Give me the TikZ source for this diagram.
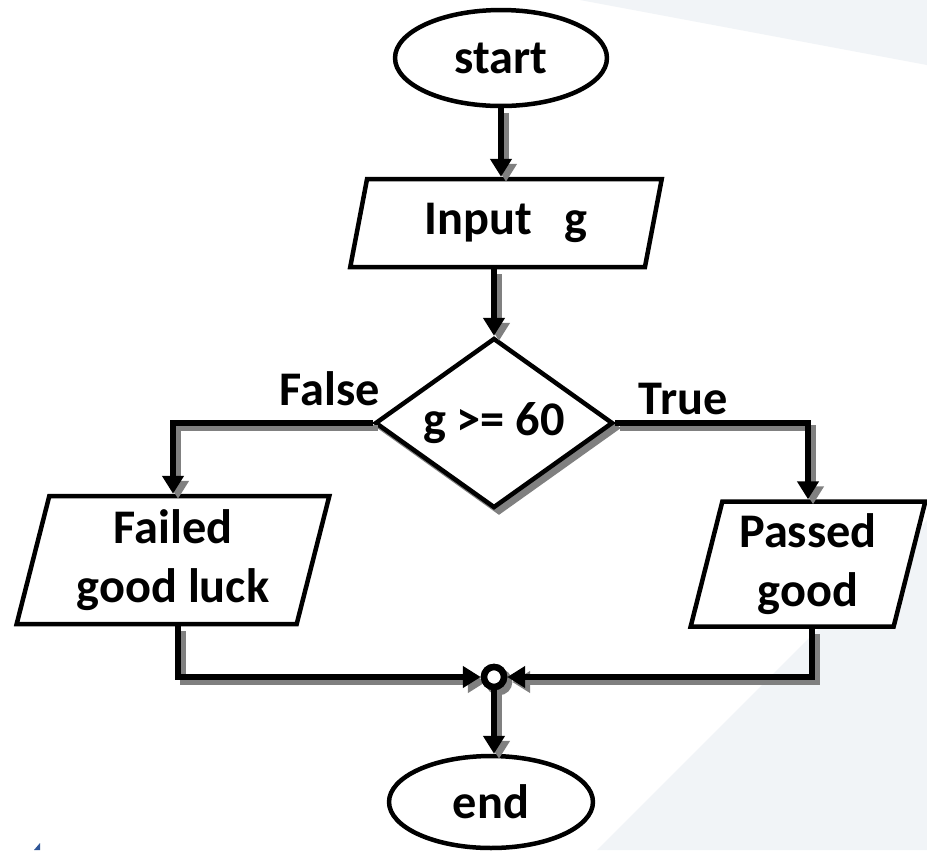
\documentclass[tikz,border=0pt]{standalone}
\usepackage{fontspec}
\setmainfont{Carlito}
\usetikzlibrary{shapes.geometric,arrows.meta}
\definecolor{shadowgray}{HTML}{808080}
\definecolor{bgtint}{HTML}{F1F4F7}
\definecolor{cornerblue}{HTML}{2F5597}
\tikzset{
  flow/.style={draw, line width=0.09cm, fill=white, align=center, inner sep=0pt,
    font=\fontsize{27.5}{34}\selectfont\bfseries},
  term/.style={flow, ellipse},
  io/.style={flow, trapezium, trapezium left angle=76, trapezium right angle=104,
    trapezium stretches=true},
  decision/.style={flow, diamond, minimum width=4.76cm, minimum height=3.4cm, aspect=1.4},
  junction/.style={circle, draw, fill=white, line width=0.13cm, minimum size=0.4cm, inner sep=0pt},
  branchlabel/.style={font=\fontsize{27.5}{34}\selectfont\bfseries, inner sep=0pt},
  link/.style={line width=0.11cm, -{Triangle[length=0.36cm,width=0.42cm]}},
  linkshadow/.style={draw=shadowgray, transform canvas={shift={(5,5)}}},
  linkmain/.style={draw=black},
}
\begin{document}
\begin{tikzpicture}[x=0.02cm, y=-0.02cm]
  % page and background tints
  \useasboundingbox (0,0) rectangle (927,850);
  \fill[white] (0,0) rectangle (927,850);
  \fill[bgtint] (580,0) -- (927,0) -- (927,65) -- cycle;
  \fill[bgtint] (927,520) -- (927,850) -- (597,850) -- cycle;
  \fill[cornerblue] (34,850) -- (40,843) -- (40,850) -- cycle;

  % terminals and boxes
  \node[term, minimum width=4.24cm, minimum height=1.92cm] (start) at (501,58) {start};
  \node[io, minimum width=6.24cm, minimum height=1.76cm] (input) at (506,223) {Input~~~g};
  \node[decision, draw=shadowgray, fill=shadowgray] (diashadow) at (499,428) {};
  \node[decision] (dia) at (494,423) {g >= 60};
  \node[io, minimum width=6.26cm, minimum height=2.56cm] (failed) at (173,560) {Failed\\good luck};
  \node[io, minimum width=4.7cm, minimum height=2.5cm] (passed) at (808,564) {Passed\\good};
  \node[term, minimum width=4.08cm, minimum height=1.84cm] (end) at (491,802) {end};

  % branch labels
  \node[branchlabel] (falselabel) at (330,389) {False};
  \node[branchlabel] (truelabel) at (683,399) {True};

  % merge point below the two outputs
  \node[junction, draw=shadowgray, fill=shadowgray] (juncshadow) at (499,682) {};
  \node[junction] (junc) at (494,677) {};

  % connectors, each drawn once as a shadow and once in black
  \foreach \s in {linkshadow,linkmain} {
    \draw[link, \s] (start.south) -- (start.south |- input.north);
    \draw[link, \s] (input.south -| dia.north) -- (dia.north);
    \draw[link, \s] (dia.west) -| (failed.north);
    \draw[link, \s] (dia.east) -| (passed.north);
    \draw[link, \s] ([xshift=0.1cm]failed.south) |- (junc.west);
    \draw[link, \s] ([xshift=0.08cm]passed.south) |- (junc.east);
    \draw[link, \s] (junc.south) -- (junc.south |- end.north);
  }
  \node[junction] (juncface) at (494,677) {};
\end{tikzpicture}
\end{document}
